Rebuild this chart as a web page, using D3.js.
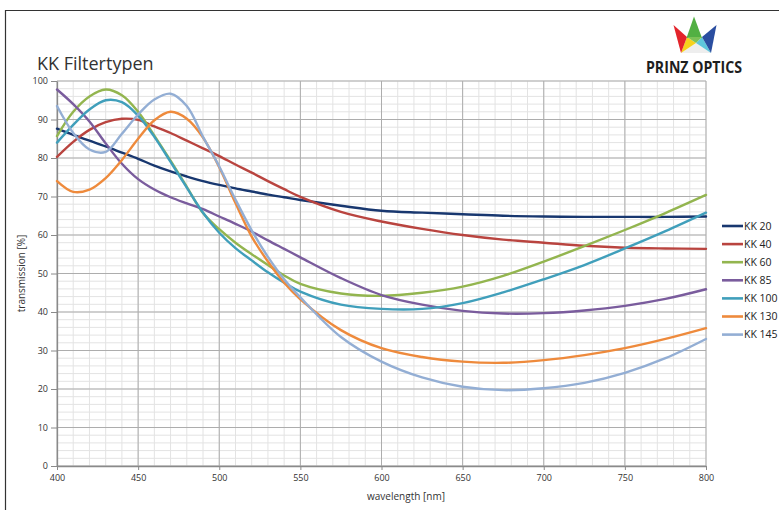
<!DOCTYPE html>
<html>
<head>
<meta charset="utf-8">
<script src="https://cdn.jsdelivr.net/npm/d3@7"></script>
<style>
  body { margin: 0; background: #fff; }
  svg { display: block; font-family: "Open Sans", sans-serif; }
</style>
</head>
<body>
<div id="chart"></div>
<script>
// wavelengths in nm
const wavelengths = [400, 410, 420, 430, 440, 450, 460, 470, 480, 490, 500, 510, 520, 530, 540, 550, 575, 600, 625, 650, 675, 700, 725, 750, 775, 800];

// transmission values in %
const kk20  = [87.6, 86.0, 84.5, 83.0, 81.4, 79.8, 78.0, 76.5, 75.2, 74.0, 73.0, 72.1, 71.3, 70.5, 69.8, 69.1, 67.6, 66.3, 65.8, 65.4, 65.0, 64.8, 64.7, 64.7, 64.7, 64.8];
const kk40  = [80.3, 84.2, 87.3, 89.3, 90.2, 89.9, 88.2, 86.5, 84.5, 82.5, 80.5, 78.3, 76.2, 74.0, 71.9, 69.9, 66.0, 63.5, 61.6, 60.0, 58.8, 58.0, 57.2, 56.7, 56.5, 56.4];
const kk60  = [85.7, 92.0, 96.0, 97.8, 96.3, 92.0, 85.8, 79.3, 72.5, 65.7, 61.5, 58.0, 55.0, 52.2, 49.5, 47.3, 44.8, 44.2, 45.0, 46.6, 49.4, 53.1, 57.1, 61.3, 65.7, 70.4];
const kk85  = [97.8, 94.0, 89.5, 83.8, 78.5, 74.5, 71.8, 69.8, 68.2, 66.7, 64.8, 62.9, 60.9, 58.6, 56.4, 54.2, 48.8, 44.4, 41.9, 40.3, 39.6, 39.7, 40.4, 41.6, 43.4, 45.9];
const kk100 = [84.0, 88.6, 92.6, 95.0, 94.5, 91.0, 85.5, 79.0, 72.3, 65.8, 60.6, 56.6, 53.4, 50.3, 47.6, 45.3, 41.9, 40.8, 40.8, 42.3, 45.1, 48.5, 52.2, 56.5, 61.0, 65.8];
const kk130 = [74.0, 71.2, 71.8, 74.8, 79.5, 85.0, 89.8, 92.0, 90.2, 85.3, 77.6, 68.3, 59.6, 53.1, 47.6, 43.3, 35.3, 30.6, 28.3, 27.1, 26.8, 27.5, 28.8, 30.6, 33.0, 35.8];
const kk145 = [93.5, 86.5, 82.2, 81.6, 86.3, 91.3, 95.2, 96.7, 93.5, 85.5, 77.8, 69.2, 61.2, 54.3, 48.5, 43.8, 33.5, 27.1, 23.0, 20.6, 19.7, 20.2, 21.6, 24.2, 28.0, 33.0];

const seriesNames = ["KK 20", "KK 40", "KK 60", "KK 85", "KK 100", "KK 130", "KK 145"];
const seriesValues = [kk20, kk40, kk60, kk85, kk100, kk130, kk145];
const seriesColors = ["#18376f", "#b9443f", "#93b54f", "#7a5c9d", "#409fbb", "#ee8a3c", "#93aed4"];

const xTicks = [400, 450, 500, 550, 600, 650, 700, 750, 800];
const yTicks = [0, 10, 20, 30, 40, 50, 60, 70, 80, 90, 100];

const width = 779, height = 510;

const svg = d3.select("#chart").append("svg")
    .attr("width", width)
    .attr("height", height);

// outer frame (top and left edges visible)
svg.append("path")
    .attr("d", "M5.5,510 V10.5 H779")
    .attr("fill", "none")
    .attr("stroke", "#333")
    .attr("stroke-width", 1.2);

const x = d3.scaleLinear().domain([400, 800]).range([57, 706]);
const y = d3.scaleLinear().domain([0, 100]).range([466, 81]);

// minor grid
const grid = svg.append("g");
grid.selectAll("line.vminor")
    .data(d3.range(400, 801, 10))
    .join("line")
    .attr("x1", d => x(d)).attr("x2", d => x(d))
    .attr("y1", y(0)).attr("y2", y(100))
    .attr("stroke", "#e3e3e3")
    .attr("stroke-width", 1);
grid.selectAll("line.hminor")
    .data(d3.range(0, 101, 2))
    .join("line")
    .attr("y1", d => y(d)).attr("y2", d => y(d))
    .attr("x1", x(400)).attr("x2", x(800))
    .attr("stroke", "#e3e3e3")
    .attr("stroke-width", 1);

// major grid
const grid2 = svg.append("g");
grid2.selectAll("line.v")
    .data(xTicks)
    .join("line")
    .attr("x1", d => x(d)).attr("x2", d => x(d))
    .attr("y1", y(0)).attr("y2", y(100))
    .attr("stroke", "#adadad")
    .attr("stroke-width", 1);
grid2.selectAll("line.h")
    .data(yTicks)
    .join("line")
    .attr("y1", d => y(d)).attr("y2", d => y(d))
    .attr("x1", x(400)).attr("x2", x(800))
    .attr("stroke", "#adadad")
    .attr("stroke-width", 1);

// axes
const xAxis = svg.append("g")
    .attr("transform", `translate(0,${y(0)})`)
    .call(d3.axisBottom(x).tickValues(xTicks).tickSize(4).tickPadding(5).tickSizeOuter(0));
const yAxis = svg.append("g")
    .attr("transform", `translate(${x(400)},0)`)
    .call(d3.axisLeft(y).tickValues(yTicks).tickSize(6).tickPadding(3).tickSizeOuter(0));

[xAxis, yAxis].forEach(a => {
    a.select(".domain").attr("stroke", "#8a8a8a").attr("stroke-width", 1.3);
    a.selectAll(".tick line").attr("stroke", "#8a8a8a");
    a.selectAll(".tick text")
        .attr("fill", "#333")
        .attr("font-size", "9px")
        .attr("font-family", "Open Sans, sans-serif");
});

// curves
const line = d3.line()
    .x((d, i) => x(wavelengths[i]))
    .y(d => y(d))
    .curve(d3.curveCatmullRom.alpha(0.5));

svg.append("g")
    .selectAll("path")
    .data(seriesValues)
    .join("path")
    .attr("d", d => line(d))
    .attr("fill", "none")
    .attr("stroke", (d, i) => seriesColors[i])
    .attr("stroke-width", 2.4)
    .attr("stroke-linecap", "round");

// legend
const legend = svg.append("g")
    .selectAll("g")
    .data(seriesNames)
    .join("g")
    .attr("transform", (d, i) => `translate(722,${226 + i * 18.1})`);
legend.append("line")
    .attr("x1", 0).attr("x2", 21)
    .attr("stroke", (d, i) => seriesColors[i])
    .attr("stroke-width", 2.6);
legend.append("text")
    .attr("x", 22)
    .attr("dy", "0.35em")
    .attr("font-size", "10.5px")
    .attr("fill", "#222")
    .text(d => d);

// title and axis labels
svg.append("text")
    .attr("x", 37)
    .attr("y", 70)
    .attr("font-size", "18px")
    .attr("fill", "#333")
    .text("KK Filtertypen");

svg.append("text")
    .attr("x", 406)
    .attr("y", 500)
    .attr("text-anchor", "middle")
    .attr("font-size", "10px")
    .attr("fill", "#333")
    .text("wavelength [nm]");

svg.append("text")
    .attr("transform", `translate(25,${(y(0) + y(100)) / 2}) rotate(-90)`)
    .attr("text-anchor", "middle")
    .attr("font-size", "10px")
    .attr("fill", "#333")
    .text("transmission [%]");

// logo
const logo = svg.append("g");
const crown = [
    { pts: [[681, 53], [711, 53], [696, 43]], fill: "#eeeeee" },
    { pts: [[681, 53], [687, 37], [696, 43]], fill: "#f6d21c" },
    { pts: [[711, 53], [702, 37], [696, 43]], fill: "#5ec6dc" },
    { pts: [[673.5, 25], [681, 53], [687, 37]], fill: "#e3242b" },
    { pts: [[716.5, 25], [711, 53], [702, 37]], fill: "#2a4ea0" },
    { pts: [[694, 16.5], [686.5, 38], [702, 38]], fill: "#52b043" },
    { pts: [[687, 37], [702, 37], [696, 43]], fill: "#7cc257" }
];
logo.selectAll("polygon")
    .data(crown)
    .join("polygon")
    .attr("points", d => d.pts.map(p => p.join(",")).join(" "))
    .attr("fill", d => d.fill);
logo.append("text")
    .attr("x", 646)
    .attr("y", 72.5)
    .attr("font-size", "16px")
    .attr("font-weight", "bold")
    .attr("textLength", 96)
    .attr("lengthAdjust", "spacingAndGlyphs")
    .attr("fill", "#1e1e1e")
    .text("PRINZ OPTICS");
</script>
</body>
</html>
